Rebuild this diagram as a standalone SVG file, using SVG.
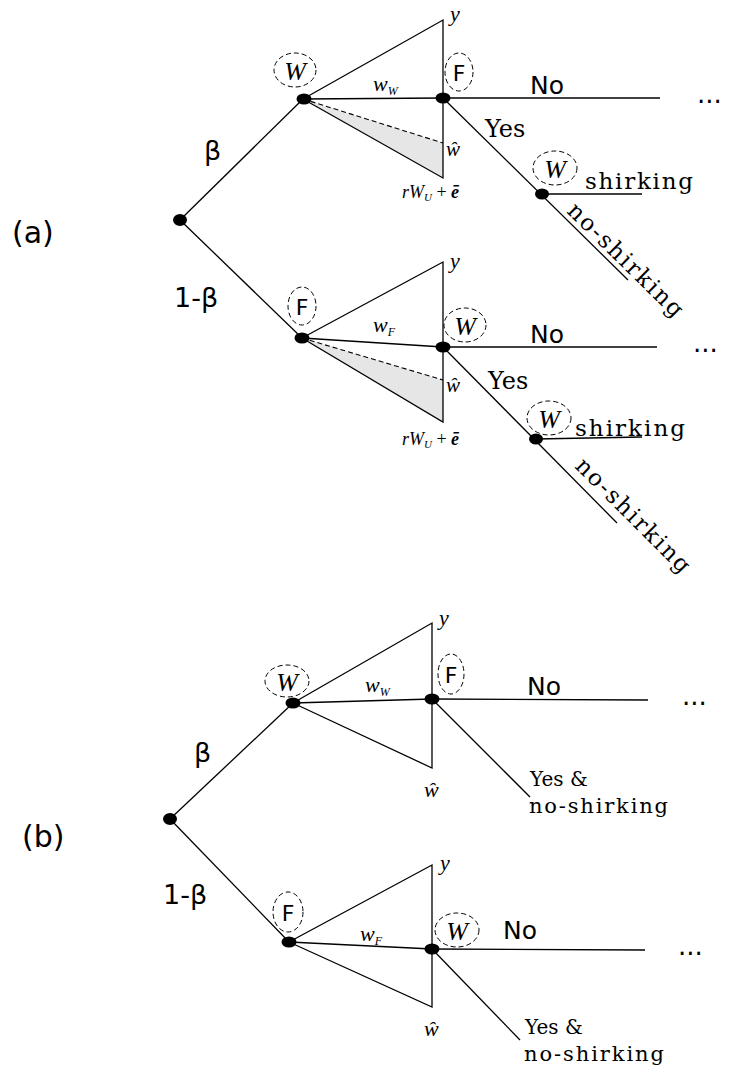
<svg xmlns="http://www.w3.org/2000/svg" width="730" height="1072" viewBox="0 0 730 1072">
<style>
.ln{stroke:#000;stroke-width:1.3;fill:none}
.tri{stroke:#000;stroke-width:1.3;fill:none}
.dash{stroke:#000;stroke-width:1.1;stroke-dasharray:5,3;fill:none}
.shade{fill:#e6e6e6;stroke:none}
.dot{fill:#000}
.ring{fill:none;stroke:#000;stroke-width:1;stroke-dasharray:5,3}
.sans{font-family:"DejaVu Sans","Liberation Sans",sans-serif;fill:#000}
.ser{font-family:"DejaVu Serif","Liberation Serif",serif;fill:#000}
.math{font-family:"Liberation Serif","Times New Roman",serif;font-style:italic;fill:#000}
.wl{font-family:"Liberation Serif",serif;font-style:italic;font-size:26px;fill:#000}
.fl{font-family:"DejaVu Sans","Liberation Sans",sans-serif;font-size:22px;fill:#000}
</style>
<rect width="730" height="1072" fill="#fff"/>
<g id="connectors">
<line class="ln" x1="180" y1="220" x2="303" y2="99"/>
<line class="ln" x1="180" y1="220" x2="302" y2="338"/>
<polygon class="shade" points="303,99 443,143 443,178"/>
<polyline class="tri" points="303,99 443,20 443,178 303,99"/>
<line class="ln" x1="303" y1="99" x2="443" y2="98"/>
<line class="dash" x1="303" y1="99" x2="443" y2="143"/>
<line class="ln" x1="443" y1="98" x2="660" y2="98"/>
<line class="ln" x1="443" y1="98" x2="628" y2="280"/>
<line class="ln" x1="542" y1="194" x2="642" y2="194"/>
<polygon class="shade" points="302,338 443,380 443,422"/>
<polyline class="tri" points="302,338 443,262 443,422 302,338"/>
<line class="ln" x1="302" y1="338" x2="443" y2="347"/>
<line class="dash" x1="302" y1="338" x2="443" y2="380"/>
<line class="ln" x1="443" y1="347" x2="657" y2="347"/>
<line class="ln" x1="443" y1="347" x2="617" y2="523"/>
<line class="ln" x1="536" y1="439" x2="642" y2="437"/>
<line class="ln" x1="170" y1="819" x2="293" y2="703"/>
<line class="ln" x1="170" y1="819" x2="289" y2="942"/>
<polyline class="tri" points="293,703 432,623 432,768 293,703"/>
<line class="ln" x1="293" y1="703" x2="432" y2="699"/>
<line class="ln" x1="432" y1="699" x2="648" y2="700"/>
<line class="ln" x1="432" y1="699" x2="530" y2="797"/>
<polyline class="tri" points="289,942 432,865 432,1007 289,942"/>
<line class="ln" x1="289" y1="942" x2="432" y2="949"/>
<line class="ln" x1="432" y1="949" x2="645" y2="950"/>
<line class="ln" x1="432" y1="949" x2="520" y2="1040"/>
</g>
<g id="a-root"><ellipse class="dot" cx="180" cy="220" rx="7" ry="6"/></g>
<g id="a-W1">
<ellipse class="dot" cx="304" cy="99" rx="7.5" ry="5.5"/>
<ellipse class="ring" cx="295" cy="70" rx="21" ry="17"/>
<text class="wl" x="295" y="80" text-anchor="middle">W</text>
</g>
<g id="a-F1">
<ellipse class="dot" cx="443" cy="98" rx="7.5" ry="5.5"/>
<ellipse class="ring" cx="459" cy="72" rx="14" ry="19"/>
<text class="fl" x="459" y="81" text-anchor="middle">F</text>
</g>
<g id="a-W2">
<ellipse class="dot" cx="542" cy="194" rx="7" ry="5.5"/>
<ellipse class="ring" cx="555" cy="168" rx="22" ry="17"/>
<text class="wl" x="555" y="178" text-anchor="middle">W</text>
</g>
<g id="a-F3">
<ellipse class="dot" cx="302" cy="338" rx="7.5" ry="5.5"/>
<ellipse class="ring" cx="302" cy="306" rx="14" ry="19"/>
<text class="fl" x="302" y="315" text-anchor="middle">F</text>
</g>
<g id="a-W4">
<ellipse class="dot" cx="443" cy="347" rx="7.5" ry="5.5"/>
<ellipse class="ring" cx="465" cy="325" rx="21" ry="17"/>
<text class="wl" x="465" y="335" text-anchor="middle">W</text>
</g>
<g id="a-W5">
<ellipse class="dot" cx="536" cy="439" rx="7" ry="5.5"/>
<ellipse class="ring" cx="549" cy="418" rx="22" ry="17"/>
<text class="wl" x="549" y="428" text-anchor="middle">W</text>
</g>
<g id="b-root"><ellipse class="dot" cx="170" cy="819" rx="7" ry="6"/></g>
<g id="b-W1">
<ellipse class="dot" cx="293" cy="703" rx="7.5" ry="5.5"/>
<ellipse class="ring" cx="287" cy="681" rx="22" ry="16"/>
<text class="wl" x="287" y="691" text-anchor="middle">W</text>
</g>
<g id="b-F1">
<ellipse class="dot" cx="432" cy="699" rx="7.5" ry="5.5"/>
<ellipse class="ring" cx="451" cy="674" rx="13" ry="20"/>
<text class="fl" x="451" y="683" text-anchor="middle">F</text>
</g>
<g id="b-F2">
<ellipse class="dot" cx="289" cy="942" rx="7.5" ry="5.5"/>
<ellipse class="ring" cx="288" cy="912" rx="15" ry="20"/>
<text class="fl" x="288" y="921" text-anchor="middle">F</text>
</g>
<g id="b-W2">
<ellipse class="dot" cx="432" cy="949" rx="7.5" ry="5.5"/>
<ellipse class="ring" cx="457" cy="930" rx="22" ry="17"/>
<text class="wl" x="457" y="940" text-anchor="middle">W</text>
</g>
<g id="labels">
<text class="sans" x="12" y="243" font-size="30">(a)</text>
<text class="sans" x="204" y="160" font-size="27">β</text>
<text class="sans" x="174" y="307" font-size="27">1-β</text>
<text class="math" x="450" y="21" font-size="22">y</text>
<text class="math" x="373" y="91" font-size="22">w<tspan font-size="12" dy="4">W</tspan></text>
<text class="math" x="446" y="156" font-size="21">ŵ</text>
<text class="math" x="402" y="198" font-size="18">rW<tspan font-size="11" dy="3">U</tspan><tspan dy="-3" font-style="normal"> + </tspan><tspan font-weight="bold">ē</tspan></text>
<text class="sans" x="530" y="94" font-size="25">No</text>
<text class="sans" x="697" y="103" font-size="26">...</text>
<text class="ser" x="485" y="137" font-size="24">Yes</text>
<text class="ser" x="585" y="189" font-size="23" textLength="108">shirking</text>
<text class="ser" font-size="23" transform="translate(566,212) rotate(44.5)" textLength="152">no-shirking</text>
<text class="math" x="450" y="268" font-size="22">y</text>
<text class="math" x="373" y="332" font-size="22">w<tspan font-size="12" dy="4">F</tspan></text>
<text class="math" x="446" y="392" font-size="21">ŵ</text>
<text class="math" x="402" y="445" font-size="18">rW<tspan font-size="11" dy="3">U</tspan><tspan dy="-3" font-style="normal"> + </tspan><tspan font-weight="bold">ē</tspan></text>
<text class="sans" x="530" y="343" font-size="25">No</text>
<text class="sans" x="693" y="352" font-size="26">...</text>
<text class="ser" x="488" y="389" font-size="24">Yes</text>
<text class="ser" x="575" y="436" font-size="23" textLength="110">shirking</text>
<text class="ser" font-size="23" transform="translate(574,467) rotate(45)" textLength="152">no-shirking</text>
<text class="sans" x="22" y="847" font-size="30">(b)</text>
<text class="sans" x="194" y="762" font-size="27">β</text>
<text class="sans" x="163" y="904" font-size="27">1-β</text>
<text class="math" x="439" y="625" font-size="22">y</text>
<text class="math" x="365" y="692" font-size="22">w<tspan font-size="12" dy="4">W</tspan></text>
<text class="math" x="424" y="797" font-size="22">ŵ</text>
<text class="sans" x="527" y="695" font-size="25">No</text>
<text class="sans" x="682" y="705" font-size="26">...</text>
<text class="ser" x="530" y="786" font-size="20">Yes &amp;</text>
<text class="ser" x="529" y="813" font-size="21" textLength="139">no-shirking</text>
<text class="math" x="440" y="870" font-size="22">y</text>
<text class="math" x="360" y="941" font-size="22">w<tspan font-size="12" dy="4">F</tspan></text>
<text class="math" x="424" y="1036" font-size="22">ŵ</text>
<text class="sans" x="503" y="939" font-size="25">No</text>
<text class="sans" x="678" y="955" font-size="26">...</text>
<text class="ser" x="525" y="1034" font-size="20">Yes &amp;</text>
<text class="ser" x="524" y="1061" font-size="21" textLength="140">no-shirking</text>
</g>
</svg>
